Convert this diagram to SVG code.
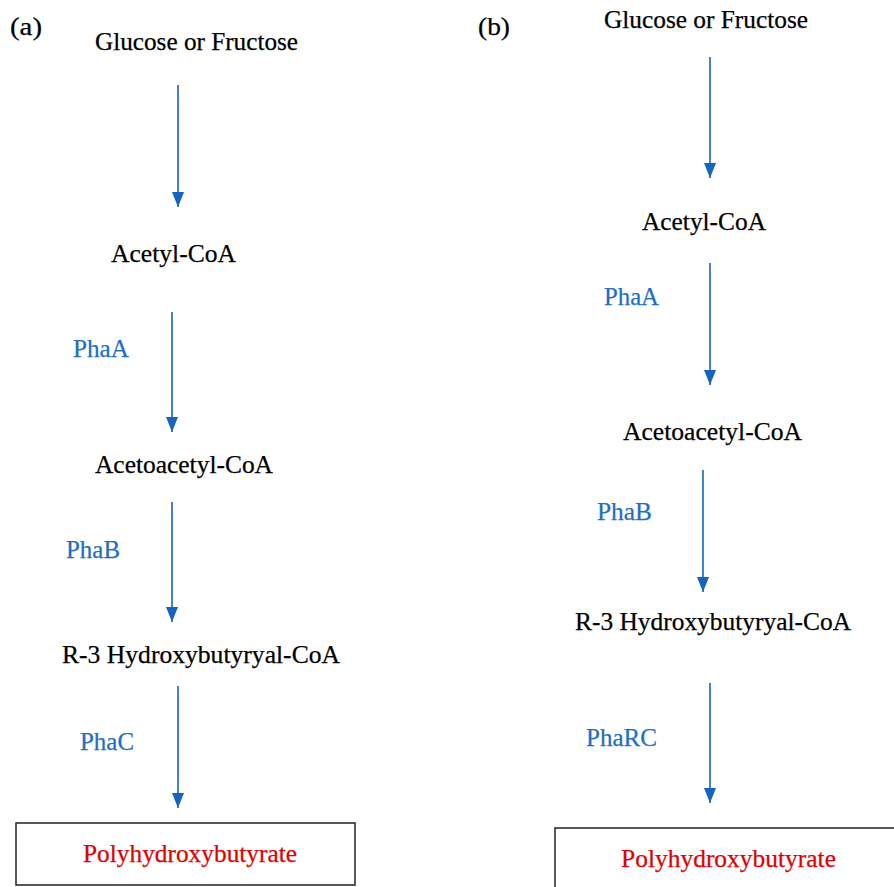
<svg xmlns="http://www.w3.org/2000/svg" width="894" height="887" viewBox="0 0 894 887">
<style>
.t{font-family:"Liberation Serif","Times New Roman",Times,serif;font-size:26px;fill:#000;stroke:#000;stroke-width:0.25}
.enz{fill:#1e6fc0;stroke:#1e6fc0}
.prod{fill:#e00000;stroke:#e00000}
.arr{stroke:#1565c0;stroke-width:1.6;fill:none;marker-end:url(#ah)}
.box{fill:#fff;stroke:#222;stroke-width:1.5}
</style>
<defs>
<marker id="ah" viewBox="0 0 15 12" refX="15" refY="6" markerWidth="15" markerHeight="12" markerUnits="userSpaceOnUse" orient="auto">
<path d="M0,0 L15,6 L0,12 Z" fill="#1565c0"/>
</marker>
</defs>
<rect width="894" height="887" fill="#fff"/>
<g id="labels">
<text class="t" x="10" y="35" textLength="32" lengthAdjust="spacingAndGlyphs">(a)</text>
<text class="t" x="478" y="35" textLength="32" lengthAdjust="spacingAndGlyphs">(b)</text>
</g>
<g id="connectors">
<line class="arr" x1="178" y1="85" x2="178" y2="207"/>
<line class="arr" x1="172" y1="312" x2="172" y2="432"/>
<line class="arr" x1="172" y1="502" x2="172" y2="622"/>
<line class="arr" x1="178" y1="686" x2="178" y2="808"/>
<line class="arr" x1="710" y1="57" x2="710" y2="178"/>
<line class="arr" x1="710" y1="263" x2="710" y2="385"/>
<line class="arr" x1="703" y1="470" x2="703" y2="592"/>
<line class="arr" x1="710" y1="683" x2="710" y2="803"/>
</g>
<g id="a-glucose"><text class="t" x="95" y="50" textLength="203" lengthAdjust="spacingAndGlyphs">Glucose or Fructose</text></g>
<g id="a-acetyl"><text class="t" x="111" y="262" textLength="125" lengthAdjust="spacingAndGlyphs">Acetyl-CoA</text></g>
<g id="a-phaA"><text class="t enz" x="73" y="357" textLength="56" lengthAdjust="spacingAndGlyphs">PhaA</text></g>
<g id="a-acetoacetyl"><text class="t" x="95" y="473" textLength="178" lengthAdjust="spacingAndGlyphs">Acetoacetyl-CoA</text></g>
<g id="a-phaB"><text class="t enz" x="66" y="558" textLength="54" lengthAdjust="spacingAndGlyphs">PhaB</text></g>
<g id="a-r3"><text class="t" x="62" y="663" textLength="278" lengthAdjust="spacingAndGlyphs">R-3 Hydroxybutyryal-CoA</text></g>
<g id="a-phaC"><text class="t enz" x="80" y="750" textLength="54" lengthAdjust="spacingAndGlyphs">PhaC</text></g>
<g id="a-phb"><rect class="box" x="16" y="823" width="339" height="62"/><text class="t prod" x="83" y="862" textLength="214" lengthAdjust="spacingAndGlyphs">Polyhydroxybutyrate</text></g>
<g id="b-glucose"><text class="t" x="604" y="28" textLength="204" lengthAdjust="spacingAndGlyphs">Glucose or Fructose</text></g>
<g id="b-acetyl"><text class="t" x="642" y="230" textLength="124" lengthAdjust="spacingAndGlyphs">Acetyl-CoA</text></g>
<g id="b-phaA"><text class="t enz" x="604" y="305" textLength="55" lengthAdjust="spacingAndGlyphs">PhaA</text></g>
<g id="b-acetoacetyl"><text class="t" x="623" y="440" textLength="179" lengthAdjust="spacingAndGlyphs">Acetoacetyl-CoA</text></g>
<g id="b-phaB"><text class="t enz" x="597" y="520" textLength="55" lengthAdjust="spacingAndGlyphs">PhaB</text></g>
<g id="b-r3"><text class="t" x="575" y="630" textLength="276" lengthAdjust="spacingAndGlyphs">R-3 Hydroxybutyryal-CoA</text></g>
<g id="b-phaRC"><text class="t enz" x="586" y="746" textLength="71" lengthAdjust="spacingAndGlyphs">PhaRC</text></g>
<g id="b-phb"><rect class="box" x="555" y="828" width="345" height="65"/><text class="t prod" x="621" y="867" textLength="215" lengthAdjust="spacingAndGlyphs">Polyhydroxybutyrate</text></g>
</svg>
